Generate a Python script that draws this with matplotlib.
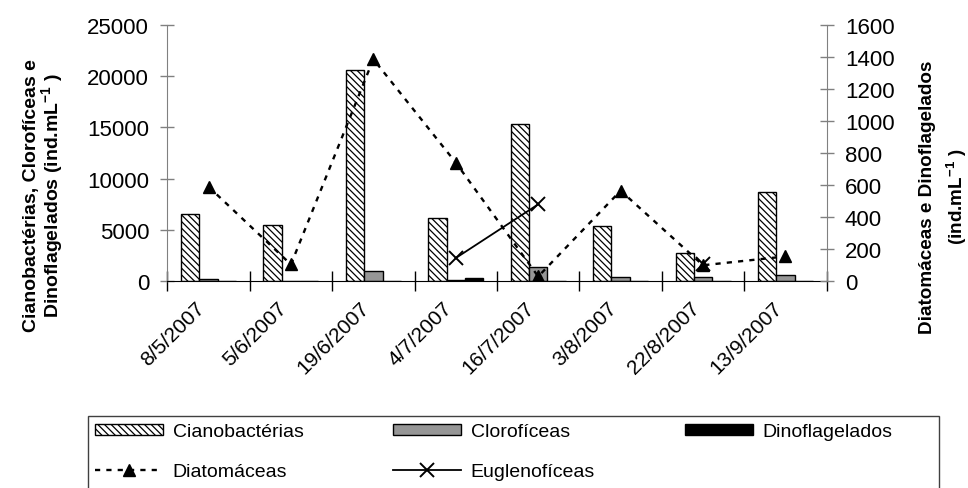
import numpy as np
import matplotlib
matplotlib.use("Agg")
import matplotlib.pyplot as plt
import matplotlib.transforms as mtransforms
from matplotlib.patches import Rectangle, Patch

plt.rcParams['font.family'] = ['Liberation Sans', 'DejaVu Sans']
plt.rcParams['mathtext.default'] = 'regular'
plt.rcParams['hatch.linewidth'] = 0.9

# ---- data ----
categories = ['8/5/2007', '5/6/2007', '19/6/2007', '4/7/2007',
              '16/7/2007', '3/8/2007', '22/8/2007', '13/9/2007']
cianobacterias = [6550, 5500, 20600, 6200, 15300, 5350, 2800, 8700]
cloroficeas = [200, 0, 1000, 100, 1350, 450, 450, 600]
dinoflagelados = [0, 0, 0, 280, 0, 0, 0, 0]
diatomaceas = [590, 105, 1385, 740, 30, 565, 100, 155]
euglenoficeas = [np.nan, np.nan, np.nan, 145, 480, np.nan, 105, np.nan]
left_ticks = [0, 5000, 10000, 15000, 20000, 25000]
right_ticks = [0, 200, 400, 600, 800, 1000, 1200, 1400, 1600]

HATCH = '\\' * 5

W, H = 968, 489
fig = plt.figure(figsize=(W / 100, H / 100), dpi=100)
L, R, T, B = 167.3, 826.7, 25.7, 282.3
ax = fig.add_axes([L / W, 1 - B / H, (R - L) / W, (B - T) / H])
ax2 = ax.twinx()

x = np.arange(len(categories))
w = 1 / 4.5
ax.bar(x - w, cianobacterias, w, facecolor='white', edgecolor='black',
       hatch=HATCH, linewidth=1.0, zorder=2)
ax.bar(x, cloroficeas, w, facecolor='#969696', edgecolor='black',
       linewidth=1.0, zorder=2)
ax.bar(x + w, dinoflagelados, w, facecolor='black', edgecolor='black',
       linewidth=1.0, zorder=2)

l1, = ax2.plot(x, diatomaceas, color='black', linestyle=(0, (2.2, 2.6)),
               linewidth=1.7, marker='^', markersize=9, markerfacecolor='black',
               markeredgecolor='black')
l2, = ax2.plot(x, euglenoficeas, color='black', linestyle='-', linewidth=1.3,
               marker='x', markersize=10, markeredgewidth=1.4)

ax.set_xlim(-0.5, len(categories) - 0.5)
ax.set_ylim(0, 25000)
ax2.set_ylim(0, 1600)

ax.set_yticks(left_ticks)
ax2.set_yticks(right_ticks)
ax.set_xticks(np.arange(len(categories) + 1) - 0.5)
ax.set_xticklabels([])
ax.set_xticks(x, minor=True)
ax.set_xticklabels(categories, minor=True, rotation=45, ha='right', va='top',
                   fontsize=15)
shift = mtransforms.ScaledTranslation(-7 / 100, 0, fig.dpi_scale_trans)
for lab in ax.get_xticklabels(minor=True):
    lab.set_transform(lab.get_transform() + shift)

ax.tick_params(axis='y', direction='inout', length=10, width=1, color='#808080',
               labelsize=16, pad=8)
ax2.tick_params(axis='y', direction='inout', length=10, width=1, color='#808080',
                labelsize=16, pad=8)
ax.tick_params(axis='x', which='major', direction='inout', length=14, width=1,
               color='black')
ax.tick_params(axis='x', which='minor', length=0, pad=12)

for a in (ax, ax2):
    a.spines['top'].set_visible(False)
ax.spines['right'].set_visible(False)
ax2.spines['left'].set_visible(False)
ax2.spines['bottom'].set_visible(False)
ax.spines['left'].set_color('#808080')
ax2.spines['right'].set_color('#808080')
ax.spines['bottom'].set_color('black')
ax.patch.set_visible(False)

fig.text(44 / W, 1 - 196 / H,
         'Cianobactérias, Clorofíceas e\nDinoflagelados (ind.mL$^{-1}$ )',
         rotation=90, ha='center', va='center', ma='center',
         fontsize=14, fontweight='bold', linespacing=0.95)
fig.text(944 / W, 1 - 197 / H,
         'Diatomáceas e Dinoflagelados\n(ind.mL$^{-1}$ )',
         rotation=90, ha='center', va='center', ma='center',
         fontsize=13.6, fontweight='bold', linespacing=1.45)

# legend frame
fig.add_artist(Rectangle((88 / W, 1 - 495 / H), (939 - 88) / W, (495 - 417) / H,
                         transform=fig.transFigure, facecolor='none',
                         edgecolor='#404040', linewidth=1.0))

h_ciano = Patch(facecolor='white', edgecolor='black', hatch=HATCH, linewidth=1.0)
h_cloro = Patch(facecolor='#969696', edgecolor='black', linewidth=1.0)
h_dino = Patch(facecolor='black', edgecolor='black', linewidth=1.0)
handles = [h_ciano, l1, h_cloro, l2, h_dino]
labels = ['Cianobactérias', 'Diatomáceas', 'Clorofíceas', 'Euglenofíceas',
          'Dinoflagelados']
fig.legend(handles, labels, ncol=3, loc='upper left',
           bbox_to_anchor=(95 / W, 1 - 424 / H), frameon=False, fontsize=14,
           borderpad=0, borderaxespad=0, handlelength=3.5, handleheight=0.5,
           handletextpad=0.5, columnspacing=4.6, labelspacing=1.2)

fig.savefig('out.png', dpi=100)
